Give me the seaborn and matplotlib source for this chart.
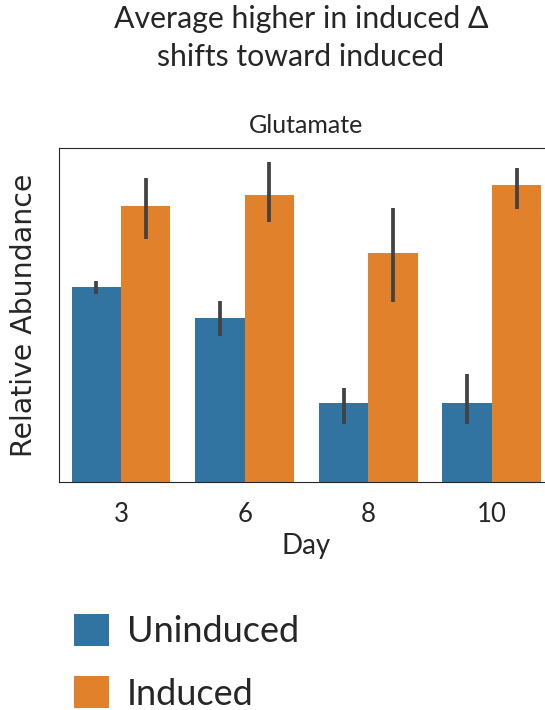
import matplotlib
matplotlib.use("Agg")
import matplotlib.pyplot as plt
import seaborn as sns
import pandas as pd

# Glutamate relative abundance per sampling day (means with interval bounds)
days = ["3", "6", "8", "10"]
conditions = ["Uninduced", "Induced"]
uninduced_mean = [0.488, 0.409, 0.198, 0.198]
uninduced_low = [0.470, 0.365, 0.146, 0.144]
uninduced_high = [0.503, 0.453, 0.236, 0.270]
induced_mean = [0.690, 0.718, 0.572, 0.743]
induced_low = [0.607, 0.649, 0.451, 0.682]
induced_high = [0.759, 0.801, 0.686, 0.786]

df = pd.DataFrame({
    "Day": days * 2,
    "Condition": [conditions[0]] * 4 + [conditions[1]] * 4,
    "Abundance": uninduced_mean + induced_mean,
    "low": uninduced_low + induced_low,
    "high": uninduced_high + induced_high,
})

sns.set_style("white")
plt.rcParams["font.family"] = ["Lato", "DejaVu Sans"]

W, H = 545, 710
fig = plt.figure(figsize=(W / 100, H / 100), dpi=100)
ax = fig.add_axes([59.2 / W, (H - 482) / H, 494.5 / W, 334 / H])

sns.barplot(data=df, x="Day", y="Abundance", hue="Condition",
            order=days, hue_order=conditions, errorbar=None,
            linewidth=0, ax=ax)

# interval bars at each bar centre
for patch, (_, row) in zip(ax.patches, df.iterrows()):
    xc = patch.get_x() + patch.get_width() / 2
    ax.vlines(xc, row["low"], row["high"], color=".26", lw=2.7, zorder=3)

ax.set_xlim(-0.5, 3.5)
ax.set_ylim(0, 0.835)
ax.set_yticks([])
ax.tick_params(axis="x", length=3.5, width=1.0, color=".15", pad=11, labelsize=18.5)
ax.set_xlabel("Day", fontsize=20, labelpad=4)
ax.set_ylabel("Relative Abundance", fontsize=20.4, family="DejaVu Sans", labelpad=15)
ax.set_title("Glutamate", fontsize=18, pad=11)

handles, labels = ax.get_legend_handles_labels()
ax.get_legend().remove()
fig.legend(handles, labels, loc="upper left", bbox_to_anchor=(74 / W, 1 - 614 / H),
           frameon=False, fontsize=26, handlelength=0.97, handleheight=0.97,
           handletextpad=0.5, labelspacing=0.78, borderpad=0, borderaxespad=0)

fig.text(301 / W, 1 - 5 / H, "Average higher in induced Δ\nshifts toward induced",
         ha="center", va="top", fontsize=21.8, linespacing=1.42,
         family=["Lato", "DejaVu Sans"])

fig.savefig("out.png", dpi=100)
